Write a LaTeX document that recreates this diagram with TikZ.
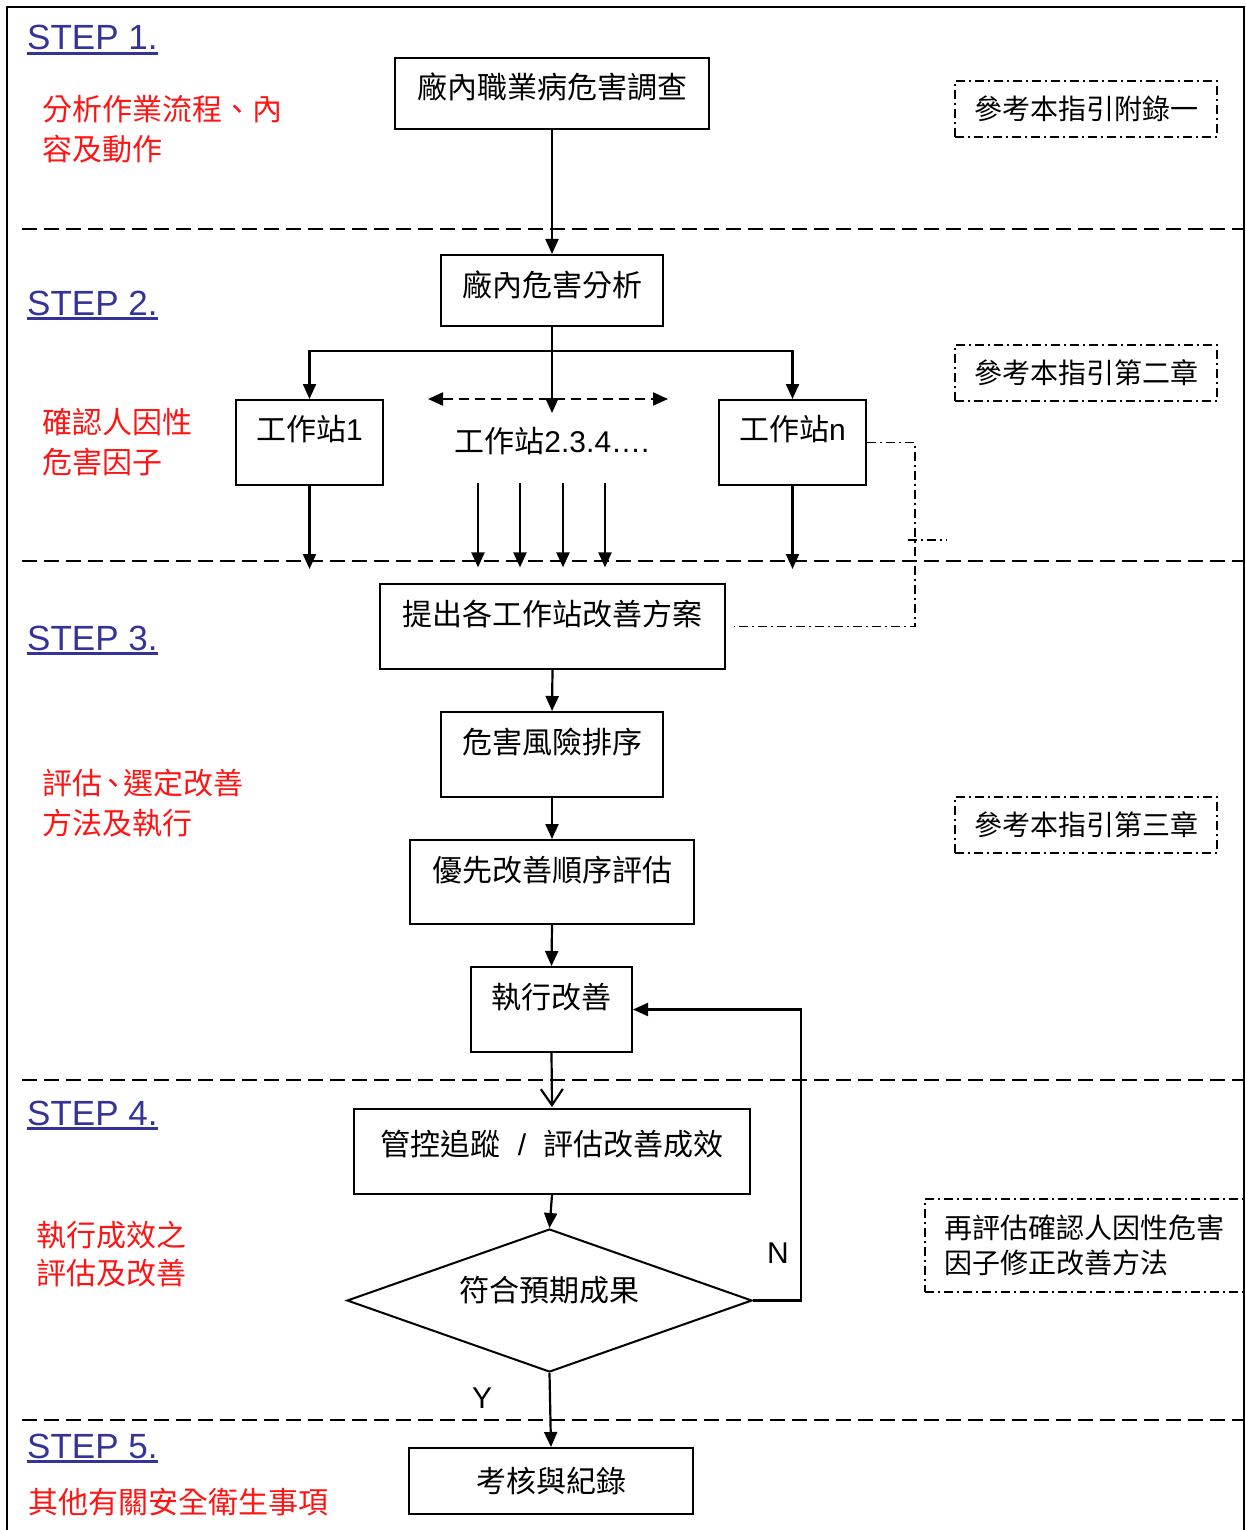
\documentclass[tikz,border=0pt]{standalone}
\usepackage{fontspec}
\setmainfont{Liberation Sans}
\newfontfamily\cjk{Noto Sans CJK TC}
\usetikzlibrary{arrows.meta,shapes.geometric}
\definecolor{stepblue}{RGB}{51,51,153}
\definecolor{notered}{RGB}{255,20,20}
\begin{document}
\begin{tikzpicture}[x=1pt,y=-1pt,
  box/.style={draw, line width=2pt, inner xsep=0pt, inner ysep=0pt, anchor=north, font=\cjk\fontsize{30pt}{36pt}\selectfont},
  ddot/.style={line width=1.6pt, dash pattern=on 9pt off 4pt on 2pt off 4pt},
  refbox/.style={draw, ddot, inner sep=0pt, font=\cjk\fontsize{28pt}{35pt}\selectfont},
  arr/.style={line width=2.2pt, -{Triangle[length=15pt,width=13pt]}},
  openarr/.style={line width=2.2pt, -{Straight Barb[length=16pt,width=22pt]}},
  sep/.style={line width=2pt, dash pattern=on 15pt off 7pt},
  steplbl/.style={font=\fontsize{35pt}{40pt}\selectfont, text=stepblue, anchor=base west, inner sep=0pt},
  redtxt/.style={font=\cjk\fontsize{30pt}{40pt}\selectfont, text=notered, anchor=base west, inner sep=0pt, align=left},
  lbl/.style={font=\fontsize{30pt}{30pt}\selectfont, inner sep=0pt},
]
\useasboundingbox (0,0) rectangle (1246,1530);

% outer frame
\draw[line width=2pt] (7,1530) -- (7,7) -- (1244,7) -- (1244,1530);

% step separators
\foreach \yy in {229,561,1080,1420} \draw[sep] (22,\yy) -- (1244,\yy);

% STEP labels
\node[steplbl] (s1) at (27,50) {STEP 1.};
\node[steplbl] (s2) at (27,315) {STEP 2.};
\node[steplbl] (s3) at (27,650) {STEP 3.};
\node[steplbl] (s4) at (27,1125) {STEP 4.};
\node[steplbl] (s5) at (27,1458) {STEP 5.};
\foreach \s in {s1,s2,s3,s4,s5}
  \draw[stepblue, line width=3pt] ([yshift=-3.5pt]\s.base west) -- ([yshift=-3.5pt]\s.base east);

% red descriptions (anchored at the baseline of the last line)
\node[redtxt] (t1) at (42,161) {分析作業流程、內\\容及動作};
\node[redtxt] (t2) at (42,473) {確認人因性\\危害因子};
\node[redtxt] (t3) at (42,834) {評估\kern-4pt、\kern-5pt選定改善\\方法及執行};
\node[redtxt, font=\cjk\fontsize{30pt}{38pt}\selectfont] (t4) at (36,1284) {執行成效之\\評估及改善};
\node[redtxt] (t5) at (28,1513) {其他有關安全衛生事項};

% main boxes
\node[box, minimum width=314pt, text height=41pt, text depth=30pt] (b1) at (552,57) {廠內職業病危害調查};
\node[box, minimum width=222pt, text height=41pt, text depth=30pt] (b2) at (552,254) {廠內危害分析};
\node[box, minimum width=147pt, text height=40pt, text depth=45pt] (w1) at (309.5,399) {工作站{\fontspec{Liberation Sans}1}};
\node[box, minimum width=147pt, text height=40pt, text depth=45pt] (wn) at (792.5,399) {工作站{\fontspec{Liberation Sans}n}};
\node[anchor=north, inner sep=0pt, text height=39pt, text depth=31pt, font=\fontsize{30pt}{36pt}\selectfont] (w2) at (552,413) {{\cjk 工作站}2.3.4….};
\node[box, minimum width=345pt, text height=41pt, text depth=44pt] (b3) at (552.5,583) {提出各工作站改善方案};
\node[box, minimum width=222pt, text height=41pt, text depth=44pt] (b4) at (552,711) {危害風險排序};
\node[box, minimum width=284pt, text height=41pt, text depth=43pt] (b5) at (552,839) {優先改善順序評估};
\node[box, minimum width=161pt, text height=41pt, text depth=44pt] (b6) at (551.5,966) {執行改善};
\node[box, minimum width=396pt, text height=46pt, text depth=39pt] (b7) at (552,1108) {管控追蹤\hspace{17pt}{\fontspec{Liberation Sans}/}\hspace{17pt}評估改善成效};
\node[draw, diamond, aspect=3, line width=2pt, minimum width=405pt, minimum height=143pt, inner sep=0pt,
      text height=20pt, text depth=18pt, font=\cjk\fontsize{30pt}{36pt}\selectfont] (d) at (549.5,1300.5) {符合預期成果};
\node[box, minimum width=284pt, text height=44pt, text depth=22pt] (b8) at (551,1447) {考核與紀錄};

% reference boxes
\node[refbox, minimum width=262pt, minimum height=56pt] (r1) at (1086,109) {參考本指引附錄一};
\node[refbox, minimum width=262pt, minimum height=56pt] (r2) at (1086,373) {參考本指引第二章};
\node[refbox, minimum width=262pt, minimum height=56pt] (r3) at (1086,825) {參考本指引第三章};
\node[refbox, minimum width=319pt, minimum height=93pt, align=left] (r4) at (1084.5,1245.5) {再評估確認人因性危害\\因子修正改善方法};

% connectors
\draw[arr] (b1.south) -- (b2.north);
\coordinate (br) at (552,351);
\draw[arr] (b2.south) -- (w2.north);
\draw[arr] (br) -| (w1.north);
\draw[arr] (br) -| (wn.north);
\coordinate (dl) at (428,399);
\coordinate (dr) at (668,399);
\draw[line width=2pt, dash pattern=on 10pt off 6pt, {Triangle[length=15pt,width=13pt]}-{Triangle[length=15pt,width=13pt]}] (dl) -- (dr);
\draw[arr] (w1.south) -- ++(0,83);
\draw[arr] (wn.south) -- ++(0,83);
\foreach \dx in {-74,-32,11,53}
  \draw[arr] ([xshift=\dx pt]w2.south) -- ++(0,84);
\draw[arr] (b3.south) -- (b4.north);
\draw[arr] (b4.south) -- (b5.north);
\draw[arr] (b5.south) -- (b6.north);
\draw[openarr] (b6.south) -- ([yshift=1pt]b7.north);
\draw[arr] (b7.south) -- (d.north);
\coordinate (nr) at (801,1300.5);
\draw[arr] (d.east) -- (nr) |- (b6.east);
\draw[arr] (d.south) -- (b8.north);
\node[lbl] (nlab) at (778,1253) {N};
\node[lbl] (ylab) at (482,1398) {Y};

% dash-dot link from station n to improvement plans
\draw[ddot] (wn.east) -- ++(48,0) |- ([xshift=8pt]b3.east);
\coordinate (st1) at (908,540);
\coordinate (st2) at (947,540);
\draw[ddot] (st1) -- (st2);
\end{tikzpicture}
\end{document}
